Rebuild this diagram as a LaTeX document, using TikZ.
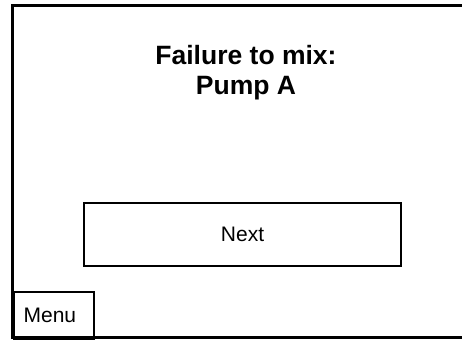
\documentclass[tikz,border=0pt]{standalone}
\usepackage{fontspec}
\setmainfont{Liberation Sans}
\begin{document}
\begin{tikzpicture}[x=1pt,y=-1pt,
  frame/.style={draw=black, line width=2.2pt},
  btn/.style={draw=black, line width=2.2pt, inner sep=0pt, font=\fontsize{21}{25}\selectfont},
  title/.style={inner sep=0pt, align=center, font=\fontsize{26.5}{30}\selectfont\bfseries}]
\useasboundingbox (0,0) rectangle (462,340);
\clip (0,0) rectangle (462,340);
\draw[frame] (12.5,5.5) rectangle (480,337.5);
\node[title, anchor=north] (t) at (246,45) {Failure to mix:\\Pump A};
\node[btn, minimum width=317pt, minimum height=63pt] (next) at (242.5,234.5) {Next};
\node[btn, anchor=north west, minimum width=80.5pt, minimum height=46.5pt, inner xsep=10pt, text width=60.5pt, align=left] (menu) at (12.5,291) {Menu};
\end{tikzpicture}
\end{document}
